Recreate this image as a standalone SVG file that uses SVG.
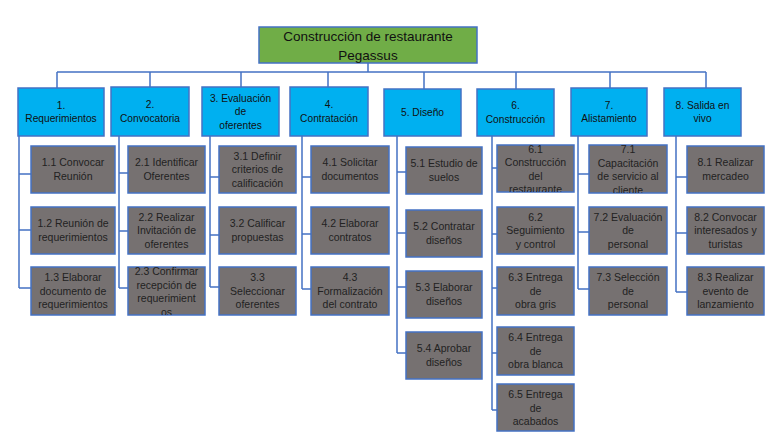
<svg xmlns="http://www.w3.org/2000/svg" width="768" height="433" viewBox="0 0 768 433">
<style>
.c{fill:none;stroke:#4472C4;stroke-width:1.5}
.root{fill:#70AD47;stroke:#4472C4;stroke-width:1.5}
.l1{fill:#00B0F0;stroke:#4472C4;stroke-width:1.5}
.l2{fill:#767171;stroke:#4472C4;stroke-width:1.5}
text{font-family:"Liberation Sans",Arial,sans-serif;text-anchor:middle}
.tr{font-size:13.5px;fill:#111}
.t1{font-size:10.2px;fill:#111}
.t2{font-size:10.5px;fill:#222}
</style>
<defs>
<clipPath id="c23"><rect x="128" y="267" width="77" height="48"/></clipPath>
<clipPath id="c61"><rect x="497" y="145" width="77" height="47"/></clipPath>
<clipPath id="c71"><rect x="589" y="145" width="78" height="48"/></clipPath>
</defs>
<rect width="768" height="433" fill="#fff"/>
<g id="connectors">
<path class="c" d="M368 63V72M57 72H706M57 72V88M150 72V87M241 72V87M328 72V87M424 72V89M516 72V89M610 72V88M706 72V88"/>
<path class="c" d="M19 136V288M19 174H31M19 230H31M19 288H31"/>
<path class="c" d="M119 136V288M119 173H128M119 231H128M119 288H128"/>
<path class="c" d="M210 136V287M210 177H219M210 235H219M210 287H219"/>
<path class="c" d="M302 136V289M302 177H311M302 234H311M302 289H311"/>
<path class="c" d="M397 136V353M397 172H406M397 233H406M397 287H406M397 353H406"/>
<path class="c" d="M492 136V410M492 168H497M492 234H497M492 288H497M492 353H497M492 410H497"/>
<path class="c" d="M578 136V289M578 174H589M578 232H589M578 289H589"/>
<path class="c" d="M676 136V292M676 177H687M676 233H687M676 292H687"/>
</g>
<g id="root"><rect class="root" x="259" y="27" width="218" height="36"/><text class="tr" x="368" y="41">Construcción de restaurante</text><text class="tr" x="368" y="60">Pegassus</text></g>
<g id="n1"><rect class="l1" x="18" y="88" width="86" height="48"/><text class="t1" x="61" y="108.75">1.</text><text class="t1" x="61" y="122.25">Requerimientos</text></g>
<g id="n2"><rect class="l1" x="111" y="87" width="78" height="49"/><text class="t1" x="150" y="108.25">2.</text><text class="t1" x="150" y="121.75">Convocatoria</text></g>
<g id="n3"><rect class="l1" x="202" y="87" width="77" height="49"/><text class="t1" x="240.5" y="101.5">3. Evaluación</text><text class="t1" x="240.5" y="115">de</text><text class="t1" x="240.5" y="128.5">oferentes</text></g>
<g id="n4"><rect class="l1" x="290" y="87" width="78" height="49"/><text class="t1" x="329" y="108.25">4.</text><text class="t1" x="329" y="121.75">Contratación</text></g>
<g id="n5"><rect class="l1" x="384" y="89" width="77" height="47"/><text class="t1" x="422.5" y="116">5. Diseño</text></g>
<g id="n6"><rect class="l1" x="477" y="89" width="77" height="47"/><text class="t1" x="515.5" y="109.25">6.</text><text class="t1" x="515.5" y="122.75">Construcción</text></g>
<g id="n7"><rect class="l1" x="571" y="88" width="76" height="48"/><text class="t1" x="609" y="108.75">7.</text><text class="t1" x="609" y="122.25">Alistamiento</text></g>
<g id="n8"><rect class="l1" x="664" y="88" width="77" height="48"/><text class="t1" x="702.5" y="108.75">8. Salida en</text><text class="t1" x="702.5" y="122.25">vivo</text></g>

<g id="n1_1"><rect class="l2" x="31" y="146" width="84" height="47"/><text class="t2" x="73" y="166.25">1.1 Convocar</text><text class="t2" x="73" y="179.75">Reunión</text></g>
<g id="n1_2"><rect class="l2" x="31" y="207" width="84" height="47"/><text class="t2" x="73" y="227.25">1.2 Reunión de</text><text class="t2" x="73" y="240.75">requerimientos</text></g>
<g id="n1_3"><rect class="l2" x="31" y="267" width="84" height="48"/><text class="t2" x="73" y="281">1.3 Elaborar</text><text class="t2" x="73" y="294.5">documento de</text><text class="t2" x="73" y="308">requerimientos</text></g>

<g id="n2_1"><rect class="l2" x="128" y="146" width="77" height="47"/><text class="t2" x="166.5" y="166.25">2.1 Identificar</text><text class="t2" x="166.5" y="179.75">Oferentes</text></g>
<g id="n2_2"><rect class="l2" x="128" y="207" width="77" height="47"/><text class="t2" x="166.5" y="220.5">2.2 Realizar</text><text class="t2" x="166.5" y="234">Invitación de</text><text class="t2" x="166.5" y="247.5">oferentes</text></g>
<g id="n2_3"><rect class="l2" x="128" y="267" width="77" height="48"/><g clip-path="url(#c23)"><text class="t2" x="166.5" y="275">2.3 Confirmar</text><text class="t2" x="166.5" y="288.5">recepción de</text><text class="t2" x="166.5" y="302">requerimient</text><text class="t2" x="166.5" y="315.5">os</text></g></g>

<g id="n3_1"><rect class="l2" x="219" y="146" width="77" height="47"/><text class="t2" x="257.5" y="159.5">3.1 Definir</text><text class="t2" x="257.5" y="173">criterios de</text><text class="t2" x="257.5" y="186.5">calificación</text></g>
<g id="n3_2"><rect class="l2" x="219" y="207" width="77" height="47"/><text class="t2" x="257.5" y="227.25">3.2 Calificar</text><text class="t2" x="257.5" y="240.75">propuestas</text></g>
<g id="n3_3"><rect class="l2" x="219" y="267" width="77" height="48"/><text class="t2" x="257.5" y="281">3.3</text><text class="t2" x="257.5" y="294.5">Seleccionar</text><text class="t2" x="257.5" y="308">oferentes</text></g>

<g id="n4_1"><rect class="l2" x="311" y="146" width="78" height="47"/><text class="t2" x="350" y="166.25">4.1 Solicitar</text><text class="t2" x="350" y="179.75">documentos</text></g>
<g id="n4_2"><rect class="l2" x="311" y="207" width="78" height="47"/><text class="t2" x="350" y="227.25">4.2 Elaborar</text><text class="t2" x="350" y="240.75">contratos</text></g>
<g id="n4_3"><rect class="l2" x="311" y="267" width="78" height="48"/><text class="t2" x="350" y="281">4.3</text><text class="t2" x="350" y="294.5">Formalización</text><text class="t2" x="350" y="308">del contrato</text></g>

<g id="n5_1"><rect class="l2" x="406" y="147" width="76" height="47"/><text class="t2" x="444" y="167.25">5.1 Estudio de</text><text class="t2" x="444" y="180.75">suelos</text></g>
<g id="n5_2"><rect class="l2" x="406" y="210" width="76" height="47"/><text class="t2" x="444" y="230.25">5.2 Contratar</text><text class="t2" x="444" y="243.75">diseños</text></g>
<g id="n5_3"><rect class="l2" x="406" y="271" width="76" height="47"/><text class="t2" x="444" y="291.25">5.3 Elaborar</text><text class="t2" x="444" y="304.75">diseños</text></g>
<g id="n5_4"><rect class="l2" x="406" y="332" width="76" height="47"/><text class="t2" x="444" y="352.25">5.4 Aprobar</text><text class="t2" x="444" y="365.75">diseños</text></g>

<g id="n6_1"><rect class="l2" x="497" y="145" width="77" height="47"/><g clip-path="url(#c61)"><text class="t2" x="535.5" y="152.75">6.1</text><text class="t2" x="535.5" y="166.25">Construcción</text><text class="t2" x="535.5" y="179.75">del</text><text class="t2" x="535.5" y="193.25">restaurante</text></g></g>
<g id="n6_2"><rect class="l2" x="497" y="207" width="77" height="47"/><text class="t2" x="535.5" y="220.5">6.2</text><text class="t2" x="535.5" y="234">Seguimiento</text><text class="t2" x="535.5" y="247.5">y control</text></g>
<g id="n6_3"><rect class="l2" x="497" y="267" width="77" height="48"/><text class="t2" x="535.5" y="281">6.3 Entrega</text><text class="t2" x="535.5" y="294.5">de</text><text class="t2" x="535.5" y="308">obra gris</text></g>
<g id="n6_4"><rect class="l2" x="497" y="327" width="77" height="48"/><text class="t2" x="535.5" y="341">6.4 Entrega</text><text class="t2" x="535.5" y="354.5">de</text><text class="t2" x="535.5" y="368">obra blanca</text></g>
<g id="n6_5"><rect class="l2" x="497" y="384" width="77" height="47"/><text class="t2" x="535.5" y="398">6.5 Entrega</text><text class="t2" x="535.5" y="411.5">de</text><text class="t2" x="535.5" y="425">acabados</text></g>

<g id="n7_1"><rect class="l2" x="589" y="145" width="78" height="48"/><g clip-path="url(#c71)"><text class="t2" x="628" y="153">7.1</text><text class="t2" x="628" y="166.5">Capacitación</text><text class="t2" x="628" y="180">de servicio al</text><text class="t2" x="628" y="193.5">cliente</text></g></g>
<g id="n7_2"><rect class="l2" x="589" y="207" width="78" height="47"/><text class="t2" x="628" y="220.5">7.2 Evaluación</text><text class="t2" x="628" y="234">de</text><text class="t2" x="628" y="247.5">personal</text></g>
<g id="n7_3"><rect class="l2" x="589" y="267" width="78" height="48"/><text class="t2" x="628" y="281">7.3 Selección</text><text class="t2" x="628" y="294.5">de</text><text class="t2" x="628" y="308">personal</text></g>

<g id="n8_1"><rect class="l2" x="687" y="146" width="77" height="47"/><text class="t2" x="725.5" y="166.25">8.1 Realizar</text><text class="t2" x="725.5" y="179.75">mercadeo</text></g>
<g id="n8_2"><rect class="l2" x="687" y="207" width="77" height="47"/><text class="t2" x="725.5" y="220.5">8.2 Convocar</text><text class="t2" x="725.5" y="234">interesados y</text><text class="t2" x="725.5" y="247.5">turistas</text></g>
<g id="n8_3"><rect class="l2" x="687" y="267" width="77" height="48"/><text class="t2" x="725.5" y="281">8.3 Realizar</text><text class="t2" x="725.5" y="294.5">evento de</text><text class="t2" x="725.5" y="308">lanzamiento</text></g>
</svg>
